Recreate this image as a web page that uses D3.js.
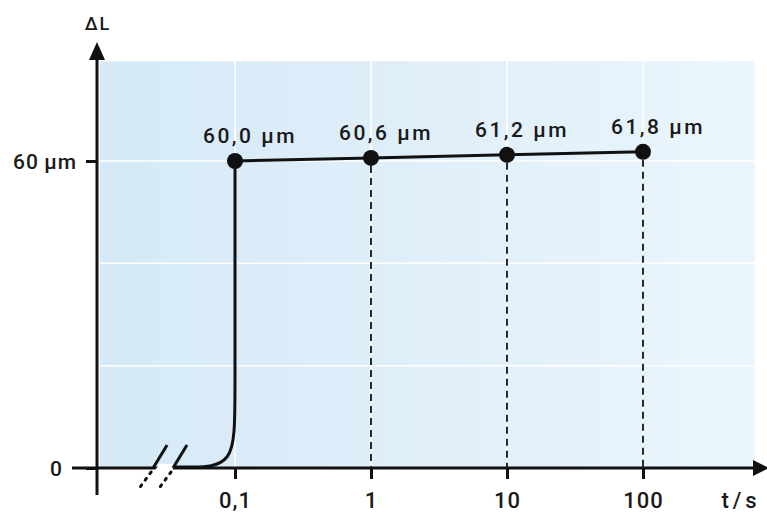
<!DOCTYPE html>
<html>
<head>
<meta charset="utf-8">
<script src="https://cdn.jsdelivr.net/npm/d3@7"></script>
<style>
  body { margin: 0; background: #fff; }
  svg { display: block; }
  text { font-family: Roboto, "Liberation Sans", Arial, sans-serif; font-weight: 500; fill: #1a1a1a; }
</style>
</head>
<body>
<svg id="chart" width="767" height="515"></svg>
<script>
// Data (time in s, elongation in µm)
const times = [0.1, 1, 10, 100];
const lengths = [60.0, 60.6, 61.2, 61.8];

// schematic jump from 0 up to the first point (rounded corner)
const riseT = [0.035, 0.045, 0.1, 0.1, 0.1];
const riseL = [0, 0, 0, 12, 60];

// axis break marks on the time axis
const breakT = [0.025, 0.035];

const xTicks = [0.1, 1, 10, 100];
const xTickLabels = ["0,1", "1", "10", "100"];
const yTicks = [0, 60];
const yTickLabels = ["0", "60\u2009µm"];
const yGrid = [20, 40, 60];
const panelT = [0.01, 666];
const panelL = [0, 79.5];

const locale = d3.formatLocale({decimal: ",", thousands: ".", grouping: [3], currency: ["", " €"]});
const fmtVal = locale.format(".1f");

const svg = d3.select("#chart");

const x = d3.scaleLog()
  .domain([0.1, 100])
  .range([235, 643]);

const y = d3.scaleLinear()
  .domain([0, 60])
  .range([468, 161]);

// background panel
const grad = svg.append("defs").append("linearGradient")
  .attr("id", "bg")
  .attr("x1", 0).attr("x2", 1).attr("y1", 0).attr("y2", 0);
grad.append("stop").attr("offset", 0).attr("stop-color", "#d5e9f7");
grad.append("stop").attr("offset", 1).attr("stop-color", "#ebf5fc");

svg.append("rect")
  .attr("x", x(panelT[0]) + 1)
  .attr("y", y(panelL[1]))
  .attr("width", x(panelT[1]) - x(panelT[0]) - 1)
  .attr("height", y(panelL[0]) - y(panelL[1]))
  .attr("fill", "url(#bg)");

// white grid
svg.append("g")
  .selectAll("line")
  .data(xTicks)
  .enter()
  .append("line")
  .attr("x1", d => x(d)).attr("x2", d => x(d))
  .attr("y1", y(panelL[1])).attr("y2", y(0))
  .attr("stroke", "#fff")
  .attr("stroke-width", 1.5);

svg.append("g")
  .selectAll("line")
  .data(yGrid)
  .enter()
  .append("line")
  .attr("x1", x(panelT[0]) + 1).attr("x2", x(panelT[1]))
  .attr("y1", d => y(d)).attr("y2", d => y(d))
  .attr("stroke", "#fff")
  .attr("stroke-width", 1.5);

// dashed drop lines
svg.append("g")
  .selectAll("line")
  .data(times.slice(1).map((t, i) => ({t: t, l: lengths[i + 1]})))
  .enter()
  .append("line")
  .attr("x1", d => x(d.t)).attr("x2", d => x(d.t))
  .attr("y1", d => y(d.l) + 8).attr("y2", y(0))
  .attr("stroke", "#2a2a2a")
  .attr("stroke-width", 2)
  .attr("stroke-dasharray", "7,5");

// axes lines + arrows
const x0 = x(panelT[0]) - 2;
svg.append("line")
  .attr("x1", 72).attr("x2", 757)
  .attr("y1", y(0)).attr("y2", y(0))
  .attr("stroke", "#111").attr("stroke-width", 3);
svg.append("polygon")
  .attr("points", [[753, y(0) - 8], [769, y(0)], [753, y(0) + 8]].join(" "))
  .attr("fill", "#111");

svg.append("line")
  .attr("x1", x0).attr("x2", x0)
  .attr("y1", y(0) + 27).attr("y2", 58)
  .attr("stroke", "#111").attr("stroke-width", 3);
svg.append("polygon")
  .attr("points", [[x0 - 8, 60], [x0, 42], [x0 + 8, 60]].join(" "))
  .attr("fill", "#111");

// x ticks
const xAxis = svg.append("g")
  .attr("transform", `translate(0,${y(0)})`)
  .call(d3.axisBottom(x).tickValues(xTicks).tickSize(11).tickFormat((d, i) => xTickLabels[i]));
xAxis.select(".domain").remove();
xAxis.selectAll(".tick line").attr("stroke", "#111").attr("stroke-width", 3);
xAxis.selectAll(".tick text")
  .attr("y", 40).attr("dy", null)
  .attr("fill", "#1a1a1a")
  .style("font-family", "Roboto, 'Liberation Sans', Arial, sans-serif")
  .style("font-weight", 500)
  .style("font-size", "22px")
  .style("letter-spacing", "1px");

// y ticks
const yAxis = svg.append("g")
  .attr("transform", `translate(${x0},0)`)
  .call(d3.axisLeft(y).tickValues(yTicks).tickSize(11).tickFormat((d, i) => yTickLabels[i]));
yAxis.select(".domain").remove();
yAxis.selectAll(".tick line").attr("stroke", "#111").attr("stroke-width", 3);
yAxis.selectAll(".tick text")
  .attr("x", d => d === 0 ? -34 : -20)
  .attr("dy", "0.36em")
  .attr("fill", "#1a1a1a")
  .style("font-family", "Roboto, 'Liberation Sans', Arial, sans-serif")
  .style("font-weight", 500)
  .style("font-size", "21px")
  .style("letter-spacing", "1px");

// axis break
const bx = breakT.map(t => x(t));
svg.append("polygon")
  .attr("points", [[bx[0] + 1, y(0) + 4], [bx[0] + 6, y(0) - 4], [bx[1] + 3, y(0) - 4], [bx[1] - 2, y(0) + 4]].join(" "))
  .attr("fill", "#fff");

const breaks = svg.append("g")
  .selectAll("g")
  .data(breakT)
  .enter()
  .append("g");
breaks.append("line")
  .attr("x1", d => x(d)).attr("y1", y(0))
  .attr("x2", d => x(d) + 14).attr("y2", y(0) - 23)
  .attr("stroke", "#111").attr("stroke-width", 3);
breaks.append("line")
  .attr("x1", d => x(d) - 2).attr("y1", y(0) + 4)
  .attr("x2", d => x(d) - 13).attr("y2", y(0) + 19)
  .attr("stroke", "#111").attr("stroke-width", 3)
  .attr("stroke-linecap", "round")
  .attr("stroke-dasharray", "2,6");

// curve
svg.append("path")
  .datum(riseT.map((t, i) => [t, riseL[i]]))
  .attr("d", d3.line().x(d => x(d[0])).y(d => y(d[1]) - 1).curve(d3.curveBasis))
  .attr("fill", "none")
  .attr("stroke", "#111")
  .attr("stroke-width", 3);

svg.append("path")
  .datum(times.map((t, i) => [t, lengths[i]]))
  .attr("d", d3.line().x(d => x(d[0])).y(d => y(d[1])))
  .attr("fill", "none")
  .attr("stroke", "#111")
  .attr("stroke-width", 3);

// points + labels
const pts = svg.append("g")
  .selectAll("g")
  .data(times.map((t, i) => ({t: t, l: lengths[i]})))
  .enter();

pts.append("circle")
  .attr("cx", d => x(d.t))
  .attr("cy", d => y(d.l))
  .attr("r", 8)
  .attr("fill", "#111");

pts.append("text")
  .attr("x", d => x(d.t) + 15)
  .attr("y", d => y(d.l) - 18)
  .attr("text-anchor", "middle")
  .style("font-size", "21px")
  .style("letter-spacing", "2.5px")
  .text(d => fmtVal(d.l) + " µm");

// axis titles
svg.append("text")
  .attr("x", x0 + 1).attr("y", 30)
  .attr("text-anchor", "middle")
  .style("font-size", "18px")
  .style("letter-spacing", "2px")
  .text("ΔL");

svg.append("text")
  .attr("x", 741).attr("y", 508)
  .attr("text-anchor", "middle")
  .style("font-size", "22px")
  .style("letter-spacing", "4px")
  .text("t/s");
</script>
</body>
</html>
